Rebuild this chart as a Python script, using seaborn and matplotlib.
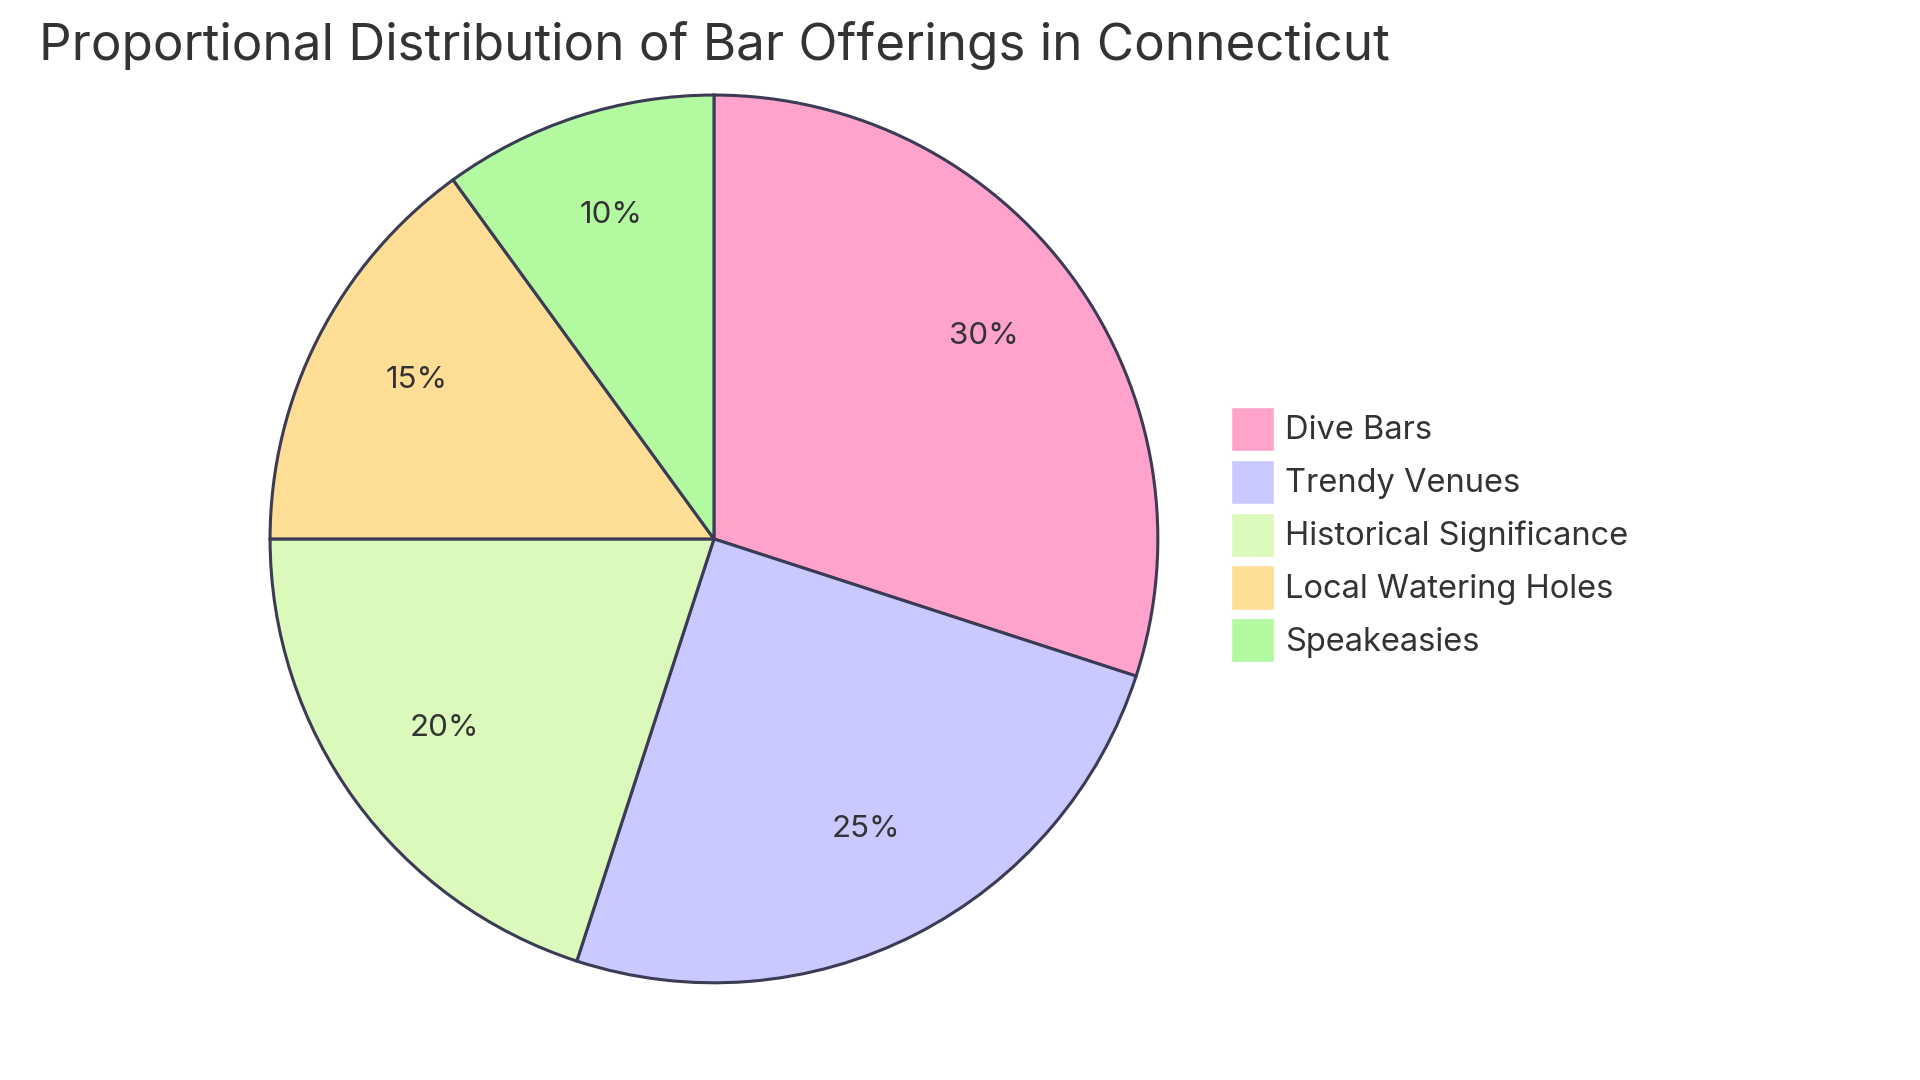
import matplotlib
matplotlib.use("Agg")
import matplotlib.pyplot as plt
import matplotlib.transforms as mtransforms
import seaborn as sns

categories = ["Dive Bars", "Trendy Venues", "Historical Significance", "Local Watering Holes", "Speakeasies"]
values = [30, 25, 20, 15, 10]
colors = ["#FFA3CC", "#C9C9FF", "#DAF9BA", "#FEDD95", "#B3F9A0"]
title = "Proportional Distribution of Bar Offerings in Connecticut"

sns.set_theme(style="white")
plt.rcParams['font.family'] = ['Inter', 'DejaVu Sans']

fig = plt.figure(figsize=(19.2, 10.8), dpi=100)
ax = fig.add_axes([0.1406, 0.090, 0.4625, 0.822])
wedges, texts, autotexts = ax.pie(
    values, colors=colors, startangle=90, counterclock=False,
    autopct=lambda p: f"{p:.0f}%", pctdistance=0.752,
    wedgeprops=dict(edgecolor="#3B3B55", linewidth=2.2),
    textprops=dict(fontsize=22.5, color="#333333"))
ax.set_xlim(-1.0, 1.0)
ax.set_ylim(-1.0, 1.0)
ax.set_aspect("equal")
ax.axis("off")
for t in autotexts:
    t.set_transform(mtransforms.offset_copy(ax.transData, fig=fig, x=0, y=5, units="points"))

fig.text(0.0203, 0.958, title, fontsize=36.8, color="#333333", ha="left", va="center")

leg = fig.legend(wedges, categories, loc="center left", bbox_to_anchor=(0.641, 0.505),
                 frameon=False, fontsize=23.5, handlelength=1.34, handleheight=1.70,
                 handletextpad=0.33, labelspacing=0.27, borderpad=0, borderaxespad=0,
                 labelcolor="#333333")
for h in leg.legend_handles:
    h.set_edgecolor("white")
    h.set_linewidth(1)

fig.savefig("out.png", dpi=100, facecolor="white")
